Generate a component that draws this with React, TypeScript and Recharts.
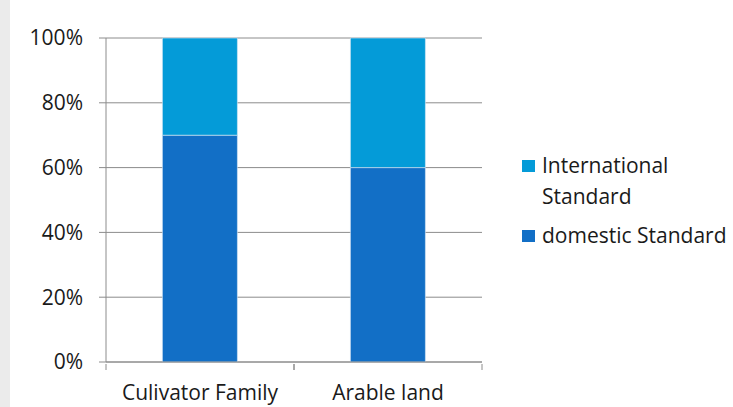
import { BarChart, Bar, XAxis, YAxis, CartesianGrid } from "recharts";

const categories = ["Culivator Family", "Arable land"];
const domesticValues = [70, 60];
const internationalValues = [30, 40];
const yTicks = [0, 20, 40, 60, 80, 100];

const chartData = categories.map((name, i) => ({
  name,
  domestic: domesticValues[i],
  international: internationalValues[i],
}));

const W = 733;
const H = 407;
const M = { top: 38, right: 251, bottom: 0, left: 0 };
const Y_AXIS_W = 106;
const band = (W - M.left - M.right - Y_AXIS_W) / categories.length;

const FONT = "'Open Sans', sans-serif";
const FS = 21;
const GRID = "#8c8c8c";

const XTick = (props: any) => {
  const { x, y, payload } = props;
  return (
    <g>
      <line x1={x - band / 2} y1={y - 6} x2={x - band / 2} y2={y} stroke={GRID} />
      <line x1={x + band / 2} y1={y - 6} x2={x + band / 2} y2={y} stroke={GRID} />
      <text x={x} y={y + 30} textAnchor="middle" fill="#1a1a1a" fontSize={FS} fontFamily={FONT}>
        {payload.value}
      </text>
    </g>
  );
};

const legendItems = [
  { label: ["International", "Standard"], color: "#049bd8" },
  { label: ["domestic Standard"], color: "#126fc6" },
];

const LegendBox = () => (
  <div
    style={{
      position: "absolute",
      left: 522,
      top: 150,
      fontFamily: FONT,
      fontSize: FS,
      color: "#1a1a1a",
      lineHeight: "31px",
    }}
  >
    {legendItems.map((it) => (
      <div key={it.label[0]} style={{ display: "flex", alignItems: "flex-start", marginBottom: 8 }}>
        <div style={{ width: 13, height: 12, background: it.color, marginTop: 10, marginRight: 7 }} />
        <div style={{ whiteSpace: "nowrap" }}>
          {it.label.map((l) => (
            <div key={l}>{l}</div>
          ))}
        </div>
      </div>
    ))}
  </div>
);

export default function App() {
  return (
    <div style={{ position: "fixed", left: 0, top: 0, width: W, height: H, background: "#fff", overflow: "hidden" }}>
      <style>{`body{margin:0;overflow:hidden}`}</style>
      <div style={{ position: "absolute", left: 0, top: 0, width: 10, height: H, background: "#ebebeb" }} />
      <BarChart width={W} height={H} data={chartData} margin={M} barCategoryGap="30%">
        <CartesianGrid vertical={false} stroke={GRID} />
        <XAxis
          dataKey="name"
          height={45}
          axisLine={{ stroke: GRID }}
          tickLine={false}
          tick={<XTick />}
          interval={0}
        />
        <YAxis
          width={Y_AXIS_W}
          domain={[0, 100]}
          ticks={yTicks}
          tickFormatter={(v) => `${v}%`}
          axisLine={{ stroke: GRID }}
          tickLine={{ stroke: GRID }}
          tickSize={7}
          tickMargin={16}
          tick={{ fill: "#1a1a1a", fontSize: FS, fontFamily: FONT }}
        />
        <Bar dataKey="domestic" stackId="a" fill="#126fc6" stroke="#dce8f5" strokeWidth={0.6} isAnimationActive={false} />
        <Bar dataKey="international" stackId="a" fill="#049bd8" stroke="#dce8f5" strokeWidth={0.6} isAnimationActive={false} />
      </BarChart>
      <LegendBox />
    </div>
  );
}
